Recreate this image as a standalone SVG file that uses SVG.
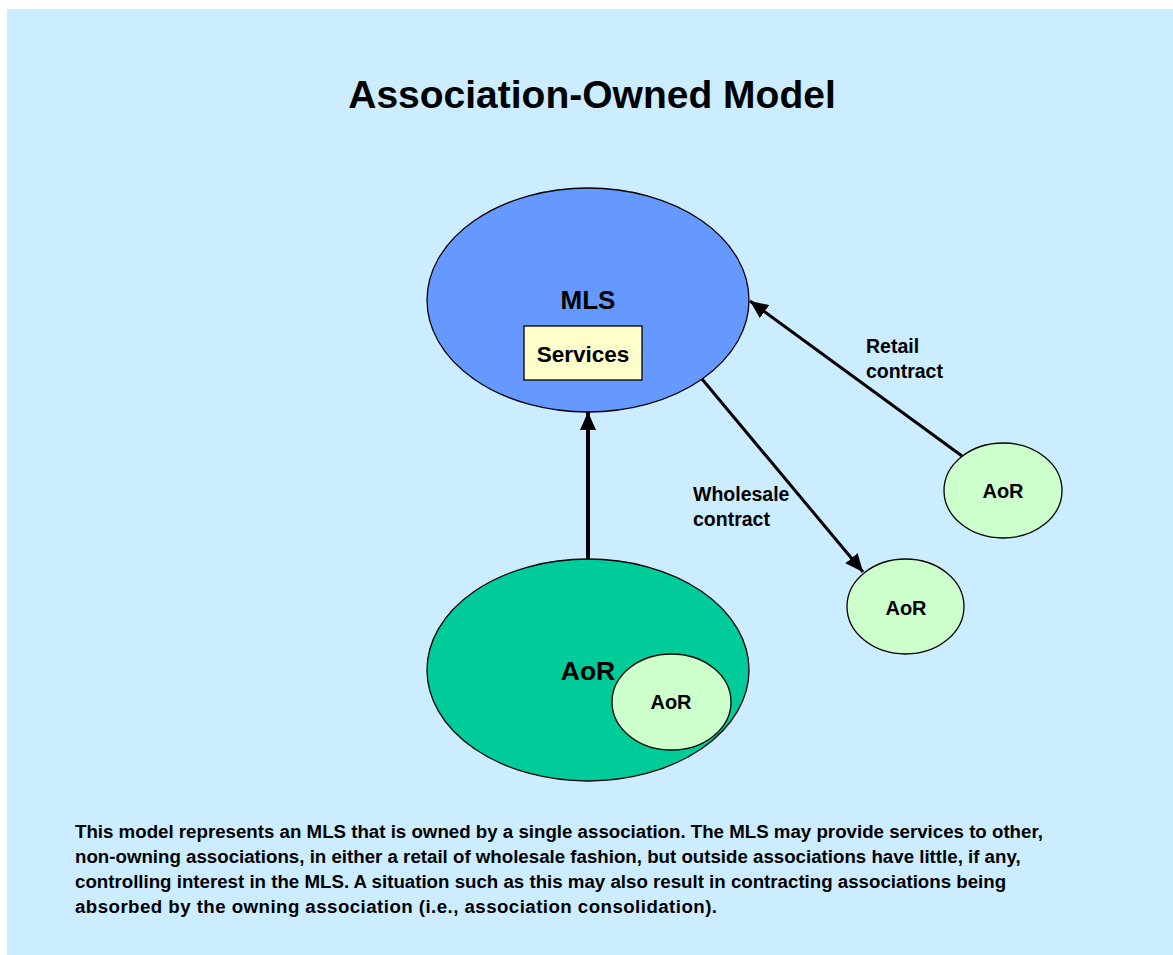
<svg xmlns="http://www.w3.org/2000/svg" width="1173" height="955" viewBox="0 0 1173 955">
<defs>
<style>
text{font-family:"Liberation Sans",Arial,sans-serif;font-weight:bold;fill:#000}
.node{stroke:#000;stroke-width:1.3}
.conn{stroke:#000;fill:none}
.lbl{font-size:19.5px}
.small{font-size:20px}
</style>
<marker id="ah" markerUnits="userSpaceOnUse" markerWidth="20" markerHeight="16" refX="18" refY="8" orient="auto">
<path d="M0,0 L18,8 L0,16 Z" fill="#000"/>
</marker>
</defs>
<rect x="0" y="0" width="1173" height="955" fill="#fff"/>
<rect x="7" y="9" width="1166" height="946" fill="#CCECFF"/>
<text x="592" y="108" font-size="39" text-anchor="middle">Association-Owned Model</text>
<g id="connectors">
<line class="conn" x1="588" y1="559" x2="588" y2="412" stroke-width="4" marker-end="url(#ah)"/>
<line class="conn" x1="962" y1="456" x2="750" y2="301" stroke-width="3" marker-end="url(#ah)"/>
<line class="conn" x1="702" y1="379" x2="863" y2="572" stroke-width="3" marker-end="url(#ah)"/>
<text class="lbl" x="866" y="353">Retail</text>
<text class="lbl" x="866" y="378">contract</text>
<text class="lbl" x="693" y="501">Wholesale</text>
<text class="lbl" x="693" y="526">contract</text>
</g>
<g id="mls">
<ellipse class="node" cx="588" cy="300" rx="161" ry="112" fill="#6699FF"/>
<text x="588" y="309" font-size="26" text-anchor="middle">MLS</text>
</g>
<g id="services">
<rect class="node" x="524" y="326" width="118" height="54" fill="#FFFFCC"/>
<text x="583" y="362" font-size="22.5" text-anchor="middle">Services</text>
</g>
<g id="aor-owner">
<ellipse class="node" cx="588" cy="670" rx="161" ry="111" fill="#00CC99"/>
<text x="588" y="680" font-size="26.5" text-anchor="middle">AoR</text>
</g>
<g id="aor-inner">
<ellipse class="node" cx="671.5" cy="702" rx="59.5" ry="48" fill="#CCFFCC"/>
<text class="small" x="671" y="709" text-anchor="middle">AoR</text>
</g>
<g id="aor-retail">
<ellipse class="node" cx="1003" cy="490.5" rx="59" ry="47.5" fill="#CCFFCC"/>
<text class="small" x="1003" y="498" text-anchor="middle">AoR</text>
</g>
<g id="aor-wholesale">
<ellipse class="node" cx="905.5" cy="606.5" rx="58.5" ry="47.5" fill="#CCFFCC"/>
<text class="small" x="906" y="615" text-anchor="middle">AoR</text>
</g>
<g id="caption" font-size="18.7">
<text x="75" y="838">This model represents an MLS that is owned by a single association. The MLS may provide services to other,</text>
<text x="75" y="863">non-owning associations, in either a retail of wholesale fashion, but outside associations have little, if any,</text>
<text x="75" y="888">controlling interest in the MLS. A situation such as this may also result in contracting associations being</text>
<text x="75" y="913" textLength="642" lengthAdjust="spacing">absorbed by the owning association (i.e., association consolidation).</text>
</g>
</svg>
